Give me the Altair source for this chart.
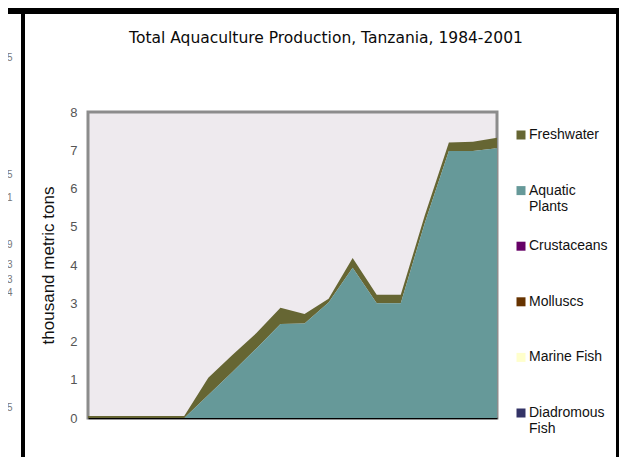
import altair as alt
import pandas as pd

# ---- data ----
years = [1984, 1985, 1986, 1987, 1988, 1989, 1990, 1991, 1992,
         1993, 1994, 1995, 1996, 1997, 1998, 1999, 2000, 2001]
series = ["Freshwater", "Aquatic Plants", "Crustaceans", "Molluscs",
          "Marine Fish", "Diadromous Fish"]
colors = ["#666633", "#669999", "#660066", "#663300", "#FFFFCC", "#333366"]
stack_rank = [5, 4, 3, 2, 1, 0]  # bottom of stack = 0

freshwater = [0.05, 0.05, 0.05, 0.05, 0.05, 0.45, 0.45, 0.40, 0.42,
              0.25, 0.10, 0.25, 0.22, 0.22, 0.20, 0.22, 0.24, 0.28]
aquatic_plants = [0.0, 0.0, 0.0, 0.0, 0.0, 0.60, 1.20, 1.82, 2.46,
                  2.47, 3.02, 3.93, 3.00, 3.00, 5.10, 6.98, 6.98, 7.05]
crustaceans = [0, 0, 0, 0, 0, 0, 0, 0, 0, 0, 0, 0, 0, 0, 0, 0, 0, 0]
molluscs = [0, 0, 0, 0, 0, 0, 0, 0, 0, 0, 0, 0, 0, 0, 0, 0, 0, 0]
marine_fish = [0, 0, 0, 0, 0, 0, 0, 0, 0, 0, 0, 0, 0, 0, 0, 0, 0, 0]
diadromous_fish = [0, 0, 0, 0, 0, 0, 0, 0, 0, 0, 0, 0, 0, 0, 0, 0, 0, 0]

y_ticks = [0, 1, 2, 3, 4, 5, 6, 7, 8]
title_text = "Total Aquaculture Production, Tanzania, 1984-2001"
y_title = "thousand metric tons"
stray_chars = ["5", "5", "1", "9", "3", "3", "4", "5"]
stray_y = [-54, 63, 86, 133, 153, 168, 181, 296]

values_by_series = [freshwater, aquatic_plants, crustaceans, molluscs,
                    marine_fish, diadromous_fish]
rows = []
for name, rank, vals in zip(series, stack_rank, values_by_series):
    for yr, v in zip(years, vals):
        rows.append({"year": yr, "series": name, "rank": rank, "value": v})
df = pd.DataFrame(rows)

area = alt.Chart(df).mark_area(interpolate="linear").encode(
    x=alt.X("year:Q",
            scale=alt.Scale(domain=[1984, 2001], nice=False, zero=False),
            axis=alt.Axis(labels=False, ticks=False, grid=False, title=None,
                          domainColor="#000000", domainWidth=1.5)),
    y=alt.Y("value:Q", stack="zero",
            scale=alt.Scale(domain=[0, 8], nice=False),
            axis=alt.Axis(values=y_ticks, grid=False, ticks=False, tickSize=0,
                          domain=False, labelPadding=11,
                          labelColor="#555555", labelFont="Liberation Sans",
                          labelFontSize=13, title=y_title,
                          titleFont="Liberation Sans", titleFontSize=17,
                          titleFontWeight="normal", titleColor="#111111",
                          titlePadding=12)),
    color=alt.Color("series:N",
                    scale=alt.Scale(domain=series, range=colors),
                    legend=alt.Legend(
                        orient="none", legendX=426, legendY=16, title=None,
                        symbolType="square", symbolSize=81,
                        symbolStrokeWidth=0, labelFont="Liberation Sans",
                        labelFontSize=14, labelColor="#111111",
                        labelOffset=1, labelLimit=200, padding=0,
                        rowPadding=25.6, gridAlign="all",
                        labelExpr="datum.label == 'Aquatic Plants' ? ['Aquatic', 'Plants'] : datum.label == 'Diadromous Fish' ? ['Diadromous', 'Fish'] : datum.label")),
    order=alt.Order("rank:Q", sort="ascending"),
)

one = pd.DataFrame({"k": [0]})
top_bar = alt.Chart(one).mark_rule(color="#000000", strokeWidth=6).encode(
    x=alt.value(-80), x2=alt.value(531), y=alt.value(-101))
left_line = alt.Chart(one).mark_rule(color="#000000", strokeWidth=4).encode(
    x=alt.value(-65), y=alt.value(-104), y2=alt.value(345))
right_line = alt.Chart(one).mark_rule(color="#000000", strokeWidth=3).encode(
    x=alt.value(529.5), y=alt.value(-104), y2=alt.value(345))

title = alt.Chart(pd.DataFrame({"t": [title_text]})).mark_text(
    align="center", baseline="middle", font="DejaVu Sans", fontSize=15.5,
    color="#0a0a0a").encode(
    x=alt.value(238), y=alt.value(-74.5), text="t:N")

stray_df = pd.DataFrame({"t": stray_chars, "py": stray_y})
stray = alt.Chart(stray_df).mark_text(
    align="left", baseline="middle", fontSize=10, color="#777777",
    font="Liberation Sans").encode(
    x=alt.value(-81), y=alt.Y("py:Q", scale=None), text="t:N")

chart = alt.layer(area, top_bar, left_line, right_line, title, stray).properties(
    width=409, height=306,
    autosize=alt.AutoSizeParams(type="none"),
    padding={"left": 80, "top": 104, "right": 122, "bottom": 39},
).configure_view(
    stroke="#8c8c8c", strokeWidth=3, fill="#EEEAEE"
)

chart.save("out.html", embed_options={"renderer": "svg", "actions": False})
